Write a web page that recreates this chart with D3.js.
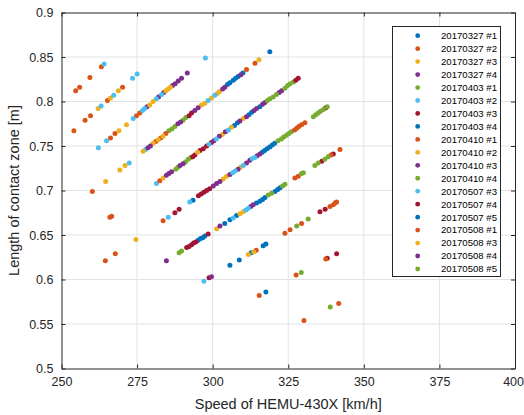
<!DOCTYPE html>
<html><head><meta charset="utf-8">
<script src="https://cdn.jsdelivr.net/npm/d3@7"></script>
<style>body{margin:0;background:#fff}svg{display:block}text{font-family:"Liberation Sans",Arial,sans-serif}</style>
</head><body><svg id="c" width="524" height="415"></svg>
<script>
const xTicks = [250,275,300,325,350,375,400];
const yTicks = [0.5,0.55,0.6,0.65,0.7,0.75,0.8,0.85,0.9];
const yTickLabels = ['0.5','0.55','0.6','0.65','0.7','0.75','0.8','0.85','0.9'];
const seriesNames = ['20170327 #1','20170327 #2','20170327 #3','20170327 #4','20170403 #1','20170403 #2','20170403 #3','20170403 #4','20170410 #1','20170410 #2','20170410 #3','20170410 #4','20170507 #3','20170507 #4','20170507 #5','20170508 #1','20170508 #3','20170508 #4','20170508 #5'];
const palette = ['#0072BD','#D95319','#EDB120','#7E2F8E','#77AC30','#4DBEEE','#A2142F'];

// [speed km/h, length m]
const s0327_1 = [[295.2,0.644],[296.0,0.646],[296.7,0.647],[297.4,0.649],[293.5,0.689]];
const s0327_2 = [[254.7,0.812],[256.0,0.816],[259.4,0.827],[263.2,0.839],[254.1,0.767],[257.8,0.779],[259.6,0.784],[265.2,0.801],[270.2,0.816],[266.2,0.759],[267.7,0.764],[274.8,0.784],[275.9,0.787],[260.2,0.699],[266.0,0.670],[266.6,0.671],[264.5,0.621],[267.8,0.629]];
const s0327_3 = [[262.1,0.792],[266.2,0.804],[268.8,0.812],[269.0,0.767],[271.5,0.774],[264.6,0.710],[269.3,0.723],[271.0,0.728],[274.6,0.645]];
const s0327_4 = [[278.3,0.794],[282.1,0.805],[283.8,0.810],[286.7,0.818],[287.6,0.820],[288.6,0.823],[289.7,0.826],[291.6,0.832]];
const s0403_1 = [[285.5,0.767],[286.5,0.769],[287.5,0.772],[290.2,0.779],[291.1,0.782],[287.8,0.724],[288.5,0.726],[291.0,0.732],[291.9,0.735],[292.7,0.737],[288.9,0.630],[289.7,0.632]];
const s0403_2 = [[264.1,0.842],[263.1,0.795],[267.3,0.807],[273.5,0.826],[275.0,0.831],[262.2,0.748],[264.9,0.756],[273.7,0.781],[276.8,0.790],[277.5,0.792],[281.4,0.803],[283.1,0.808],[272.4,0.731],[277.8,0.746],[281.4,0.708],[285.3,0.670]];
const s0403_3 = [[292.2,0.784],[293.0,0.787],[293.4,0.738],[294.1,0.740],[295.8,0.745],[296.9,0.747],[298.0,0.750],[299.6,0.754],[287.5,0.675],[288.9,0.679],[295.3,0.694],[296.2,0.696],[297.1,0.698],[298.0,0.700],[299.0,0.702],[291.4,0.636],[292.2,0.637],[293.0,0.639],[293.7,0.641],[294.4,0.642],[298.5,0.651],[298.8,0.602]];
const s0403_4 = [[304.9,0.819],[305.7,0.821],[306.8,0.824],[307.6,0.826],[308.4,0.828],[310.0,0.832],[307.2,0.773],[308.2,0.776],[312.0,0.785],[312.9,0.788],[315.6,0.794],[316.4,0.743],[317.2,0.745],[318.0,0.747],[318.9,0.749],[319.7,0.751],[320.5,0.753],[304.0,0.663],[305.7,0.667],[307.9,0.672],[314.5,0.686],[315.6,0.688],[316.5,0.690],[317.3,0.692],[320.6,0.699],[321.5,0.701],[322.3,0.703],[305.7,0.616],[308.8,0.622],[312.7,0.630],[316.7,0.638],[317.6,0.640],[317.6,0.586]];
const s0410_1 = [[281.2,0.755],[282.8,0.759],[284.5,0.764],[282.5,0.711],[283.6,0.666],[314.4,0.633]];
const s0410_2 = [[279.2,0.796],[280.3,0.800],[284.5,0.812],[285.3,0.814],[286.0,0.816],[277.0,0.744],[280.3,0.753],[282.0,0.757],[283.6,0.761],[296.3,0.796],[297.4,0.798],[299.6,0.804],[301.5,0.809],[302.2,0.811],[283.6,0.714],[295.0,0.743],[303.2,0.763],[306.2,0.771],[310.1,0.781],[303.5,0.713],[304.6,0.716],[309.2,0.726],[301.3,0.657],[309.0,0.674],[310.1,0.676],[311.8,0.628],[313.6,0.631]];
const s0410_3 = [[278.6,0.748],[279.4,0.750],[288.5,0.775],[289.4,0.777],[294.1,0.790],[295.2,0.793],[303.3,0.814],[304.0,0.816],[284.7,0.717],[285.5,0.719],[286.4,0.721],[289.2,0.728],[290.2,0.730],[300.4,0.756],[302.2,0.761],[304.2,0.766],[309.0,0.778],[311.2,0.783],[313.7,0.790],[314.5,0.792],[316.5,0.797],[317.3,0.799],[322.0,0.810],[322.8,0.812],[300.2,0.705],[301.3,0.708],[302.4,0.710],[305.7,0.718],[308.4,0.724],[311.2,0.731],[312.3,0.734],[314.7,0.739],[315.6,0.741],[284.7,0.621],[302.4,0.660],[312.6,0.682],[313.4,0.684],[299.6,0.603]];
const s0410_4 = [[318.1,0.801],[318.9,0.803],[320.0,0.805],[321.1,0.808],[323.9,0.815],[324.8,0.818],[325.6,0.820],[326.7,0.822],[321.6,0.756],[322.7,0.758],[323.5,0.760],[324.4,0.762],[325.2,0.764],[326.0,0.766],[318.4,0.695],[319.5,0.697],[323.1,0.705],[323.9,0.707]];
const s0507_3 = [[297.6,0.849],[298.5,0.801],[300.7,0.807],[298.8,0.752],[301.2,0.758],[305.2,0.768],[292.4,0.687],[306.6,0.720],[307.4,0.722],[310.1,0.728],[313.1,0.736],[313.9,0.737],[306.8,0.669],[311.0,0.678],[311.8,0.680],[297.1,0.598]];
const s0507_4 = [[327.5,0.824],[328.3,0.826],[337.4,0.793],[336.1,0.733],[339.9,0.741],[335.5,0.676],[337.2,0.679],[337.9,0.624],[341.0,0.629]];
const s0507_5 = [[318.9,0.856]];
const s0508_1 = [[311.2,0.836],[314.0,0.843],[327.1,0.768],[327.8,0.770],[328.5,0.772],[329.4,0.774],[330.5,0.776],[327.2,0.714],[328.3,0.716],[339.1,0.740],[342.1,0.746],[323.9,0.652],[325.6,0.656],[329.4,0.663],[338.8,0.682],[339.9,0.684],[340.5,0.686],[341.0,0.687],[315.4,0.582],[327.6,0.605],[337.4,0.623],[330.2,0.554],[341.7,0.573]];
const s0508_3 = [[315.3,0.847]];
const s0508_4 = [[309.3,0.830]];
const s0508_5 = [[333.3,0.783],[334.1,0.785],[334.9,0.787],[335.7,0.789],[336.6,0.791],[337.9,0.794],[329.4,0.719],[330.0,0.720],[333.8,0.728],[334.9,0.731],[337.1,0.735],[338.2,0.738],[327.8,0.660],[331.6,0.668],[329.3,0.608],[338.9,0.569]];

const seriesData = [s0327_1,s0327_2,s0327_3,s0327_4,s0403_1,s0403_2,s0403_3,s0403_4,s0410_1,s0410_2,s0410_3,s0410_4,s0507_3,s0507_4,s0507_5,s0508_1,s0508_3,s0508_4,s0508_5];

const svg = d3.select('#c');
const L = 61.5, T = 12.5, R = 515, B = 368.5;
const x = d3.scaleLinear().domain([250,400]).range([L,R]);
const y = d3.scaleLinear().domain([0.5,0.9]).range([B,T]);
const ink = '#262626';

// grid
const g = svg.append('g');
g.selectAll('.gx').data(xTicks.slice(1,-1)).join('line')
  .attr('x1',d=>x(d)).attr('x2',d=>x(d)).attr('y1',T).attr('y2',B)
  .attr('stroke','#e3e3e3').attr('stroke-width',1);
g.selectAll('.gy').data(yTicks.slice(1,-1)).join('line')
  .attr('y1',d=>y(d)).attr('y2',d=>y(d)).attr('x1',L).attr('x2',R)
  .attr('stroke','#e3e3e3').attr('stroke-width',1);

// points
seriesData.forEach((arr,i)=>{
  svg.append('g').selectAll('circle').data(arr).join('circle')
    .attr('cx',d=>x(d[0])).attr('cy',d=>y(d[1])).attr('r',2.5)
    .attr('fill',palette[i%7]);
});

// axes
const ax = svg.append('g').attr('transform',`translate(0,${B})`)
  .call(d3.axisBottom(x).tickValues(xTicks).tickSizeInner(-4).tickSizeOuter(0).tickPadding(9));
const axT = svg.append('g').attr('transform',`translate(0,${T})`)
  .call(d3.axisTop(x).tickValues(xTicks).tickSizeInner(-4).tickSizeOuter(0).tickFormat(''));
const ay = svg.append('g').attr('transform',`translate(${L},0)`)
  .call(d3.axisLeft(y).tickValues(yTicks).tickSizeInner(-4).tickSizeOuter(0).tickPadding(8).tickFormat((d,i)=>yTickLabels[i]));
const ayR = svg.append('g').attr('transform',`translate(${R},0)`)
  .call(d3.axisRight(y).tickValues(yTicks).tickSizeInner(-4).tickSizeOuter(0).tickFormat(''));
[ax,axT,ay,ayR].forEach(a=>{
  a.select('.domain').attr('stroke',ink).attr('stroke-width',1);
  a.selectAll('.tick line').attr('stroke',ink);
  a.selectAll('text').attr('fill',ink).style('font-size','12.5px').style('font-family','"Liberation Sans",Arial,sans-serif');
});
// keep last x label inside the canvas
ax.selectAll('.tick text').filter(d=>d===400).attr('text-anchor','end').attr('x',523.5-x(400));

svg.append('text').attr('x',(L+R)/2).attr('y',409).attr('text-anchor','middle')
  .style('font-size','14.5px').attr('fill',ink).text('Speed of HEMU-430X [km/h]');
svg.append('text').attr('transform',`translate(19,${(T+B)/2}) rotate(-90)`).attr('text-anchor','middle')
  .style('font-size','14.5px').attr('fill',ink).text('Length of contact zone [m]');

// legend
const lg = svg.append('g');
lg.append('rect').attr('x',392.5).attr('y',26.5).attr('width',108).attr('height',250)
  .attr('fill','#fff').attr('stroke',ink).attr('stroke-width',1);
seriesNames.forEach((n,i)=>{
  const yy = 35.7 + i*12.96;
  lg.append('circle').attr('cx',417.7).attr('cy',yy).attr('r',2.4).attr('fill',palette[i%7]);
  lg.append('text').attr('x',441).attr('y',yy).attr('dy','0.35em')
    .style('font-size','9.6px').attr('fill','#000').text(n);
});
</script></body></html>
